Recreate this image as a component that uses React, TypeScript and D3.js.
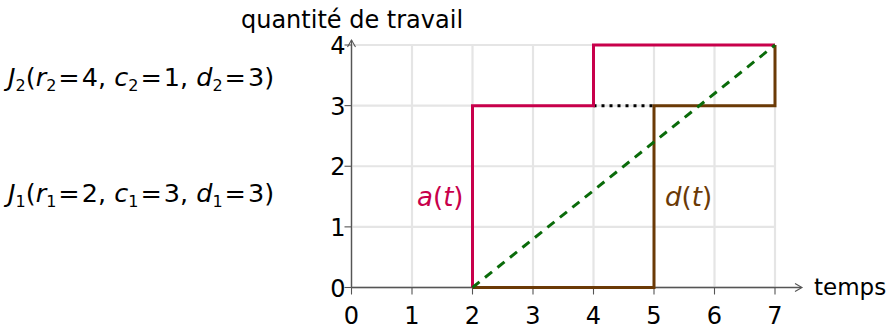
import React from "react";
import * as d3 from "d3";

// Work quantity over time for two jobs
const xTicks = [0, 1, 2, 3, 4, 5, 6, 7];
const yTicks = [0, 1, 2, 3, 4];
// a(t): cumulative arrivals
const arrivalT = [2, 2, 4, 4, 7];
const arrivalW = [0, 3, 3, 4, 4];
// d(t): cumulative departures
const departT = [2, 5, 5, 7, 7];
const departW = [0, 0, 3, 3, 4];
// constant-rate reference line
const rateT = [2, 7];
const rateW = [0, 4];
// idle gap between a(t) and d(t)
const gapT = [4, 5];
const gapW = [3, 3];

const FONT = "'DejaVu Sans', sans-serif";
const GRID = "#e5e5e5";
const AXIS = "#555";
const RED = "#c8004b";
const BROWN = "#6b3a06";
const GREEN = "#0a6b0a";

function Job({ y, idx, r, c, d }: { y: number; idx: number; r: number; c: number; d: number }) {
  const sub = { fontSize: 16, dy: 5 };
  return (
    <text x={8} y={y} fontSize={25.5} fill="#000">
      <tspan fontStyle="italic">J</tspan><tspan {...sub}>{idx}</tspan>
      <tspan dy={-5}>(</tspan><tspan fontStyle="italic">r</tspan><tspan {...sub}>{idx}</tspan>
      <tspan dy={-5} dx={2}>=</tspan><tspan dx={2}>{r}, </tspan>
      <tspan fontStyle="italic">c</tspan><tspan {...sub}>{idx}</tspan>
      <tspan dy={-5} dx={2}>=</tspan><tspan dx={2}>{c}, </tspan>
      <tspan fontStyle="italic">d</tspan><tspan {...sub}>{idx}</tspan>
      <tspan dy={-5} dx={2}>=</tspan><tspan dx={2}>{d})</tspan>
    </text>
  );
}

export default function App() {
  const W = 890, H = 331;
  const x = d3.scaleLinear().domain([0, 7]).range([351.5, 775]);
  const y = d3.scaleLinear().domain([0, 4]).range([287.5, 45]);
  const line = (ts: number[], ws: number[]) =>
    d3.line<number>().x((_, i) => x(ts[i])).y((_, i) => y(ws[i]))(ts) as string;

  const x0 = x(0), y0 = y(0);
  return (
    <svg width={W} height={H} style={{ position: "absolute", left: 0, top: 0 }} fontFamily={FONT}>
      {/* grid */}
      {xTicks.map((t) => (
        <line key={"gx" + t} x1={x(t)} x2={x(t)} y1={y(0)} y2={y(4)} stroke={GRID} strokeWidth={2.2} />
      ))}
      {yTicks.map((t) => (
        <line key={"gy" + t} x1={x(0)} x2={x(7)} y1={y(t)} y2={y(t)} stroke={GRID} strokeWidth={2.2} />
      ))}
      {/* axes */}
      <line x1={x0} x2={801} y1={y0} y2={y0} stroke={AXIS} strokeWidth={1.3} />
      <path d={`M${795},${y0 - 4} L${802},${y0} L${795},${y0 + 4}`} fill="none" stroke={AXIS} strokeWidth={1.1} />
      <line x1={x0} x2={x0} y1={y0} y2={40} stroke={AXIS} strokeWidth={1.3} />
      <path d={`M${x0 - 4},${47} L${x0},${40} L${x0 + 4},${47}`} fill="none" stroke={AXIS} strokeWidth={1.1} />
      {xTicks.map((t) => (
        <g key={"tx" + t}>
          <line x1={x(t)} x2={x(t)} y1={y0} y2={y0 + 7} stroke={AXIS} strokeWidth={1.1} />
          <text x={x(t)} y={y0 + 36} textAnchor="middle" fontSize={24} fill="#000">{t}</text>
        </g>
      ))}
      {yTicks.map((t) => (
        <g key={"ty" + t}>
          <line x1={x0 - 7} x2={x0} y1={y(t)} y2={y(t)} stroke={AXIS} strokeWidth={1.1} />
          <text x={x0 - 6} y={y(t) + 9} textAnchor="end" fontSize={24} fill="#000">{t}</text>
        </g>
      ))}
      <text x={352} y={28} textAnchor="middle" fontSize={24} fill="#000">quantité de travail</text>
      <text x={814} y={y0 + 7} fontSize={23} fill="#000">temps</text>

      {/* series */}
      <path d={line(gapT, gapW)} fill="none" stroke="#000" strokeWidth={3} strokeDasharray="3 5" />
      <path d={line(departT, departW)} fill="none" stroke={BROWN} strokeWidth={3} strokeLinejoin="miter" />
      <path d={line(arrivalT, arrivalW)} fill="none" stroke={RED} strokeWidth={3} strokeLinejoin="miter" />
      <path d={line(rateT, rateW)} fill="none" stroke={GREEN} strokeWidth={3} strokeDasharray="9 7" />

      <text x={x(2) - 9} y={y(1.5) + 9} textAnchor="end" fontSize={26} fill={RED}>
        <tspan fontStyle="italic">a</tspan>(<tspan fontStyle="italic">t</tspan>)
      </text>
      <text x={x(5) + 11} y={y(1.5) + 9} fontSize={26} fill={BROWN}>
        <tspan fontStyle="italic">d</tspan>(<tspan fontStyle="italic">t</tspan>)
      </text>

      {/* job descriptions */}
      <Job y={86} idx={2} r={4} c={1} d={3} />
      <Job y={202} idx={1} r={2} c={3} d={3} />
    </svg>
  );
}
